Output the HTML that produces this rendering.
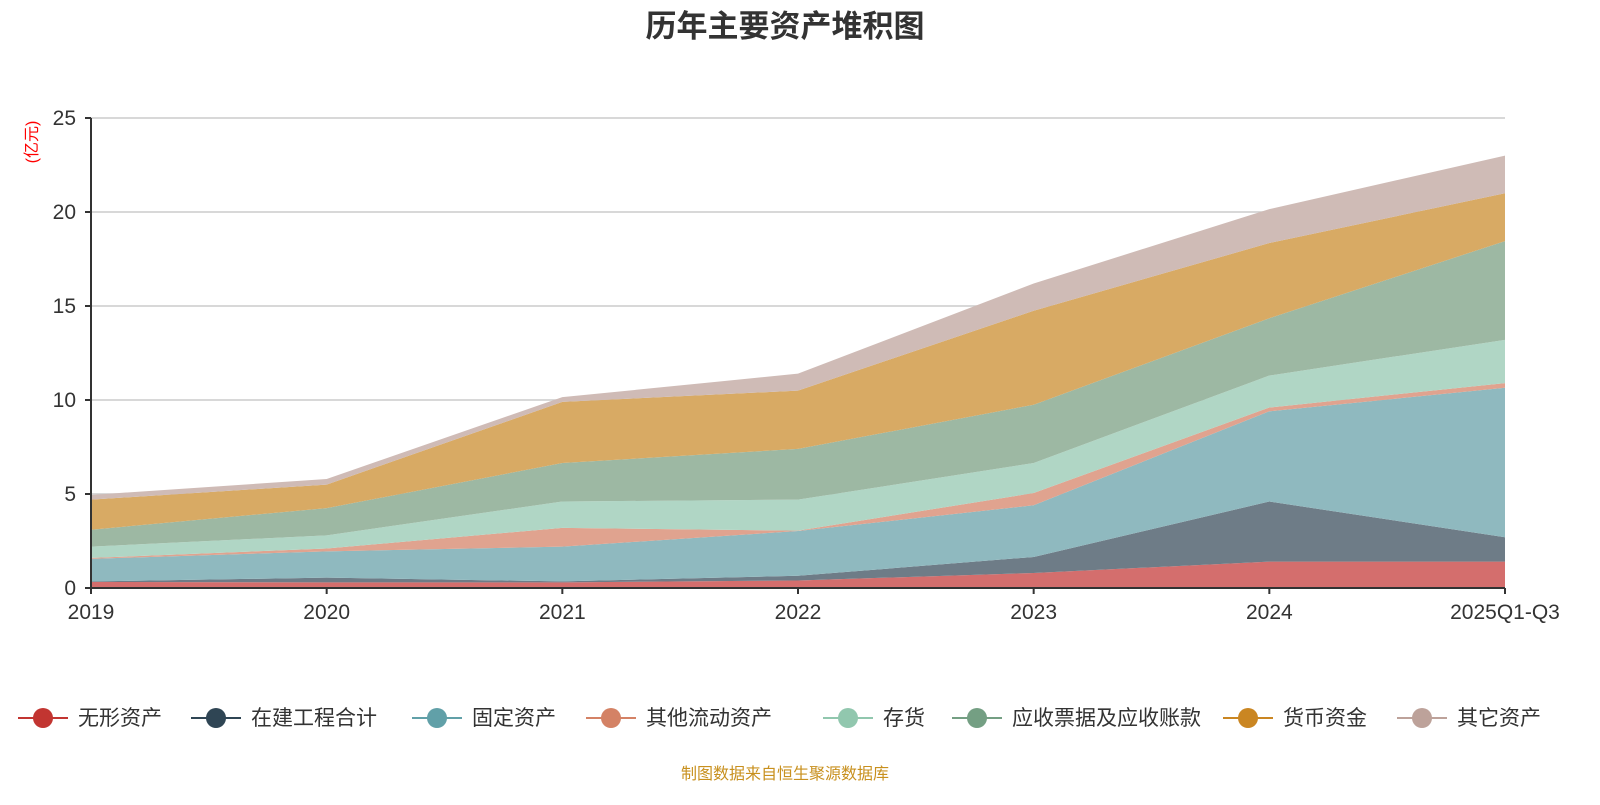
<!DOCTYPE html>
<html><head><meta charset="utf-8"><style>
body{margin:0;width:1600px;height:800px;background:#fff;overflow:hidden;font-family:"Liberation Sans","Noto Sans CJK SC",sans-serif;}
</style></head><body>
<svg id="chart" width="1600" height="800" xmlns="http://www.w3.org/2000/svg" font-family="Liberation Sans, Noto Sans CJK SC, sans-serif">
<text x="785" y="37" text-anchor="middle" font-size="31" font-weight="bold" fill="#333">历年主要资产堆积图</text>
<text transform="translate(37,142) rotate(-90)" text-anchor="middle" font-size="16" fill="#f00">(亿元)</text>
<g id="grid"></g><g id="areas"></g><g id="axes"></g><g id="legend"></g>
<text x="785" y="779" text-anchor="middle" font-size="16" fill="#c8901e">制图数据来自恒生聚源数据库</text>
</svg>
<script>
const categories=["2019","2020","2021","2022","2023","2024","2025Q1-Q3"];
const seriesNames=["无形资产","在建工程合计","固定资产","其他流动资产","存货","应收票据及应收账款","货币资金","其它资产"];
const s0=[0.32,0.3,0.3,0.4,0.8,1.4,1.4];
const s1=[0.03,0.25,0.05,0.25,0.85,3.2,1.3];
const s2=[1.2,1.4,1.85,2.38,2.75,4.8,7.95];
const s3=[0.05,0.15,1.0,0.02,0.65,0.2,0.25];
const s4=[0.6,0.7,1.4,1.65,1.6,1.7,2.3];
const s5=[0.9,1.45,2.05,2.7,3.1,3.05,5.25];
const s6=[1.6,1.25,3.25,3.1,5.0,4.0,2.55];
const s7=[0.25,0.3,0.25,0.9,1.45,1.8,2.0];
const yTicks=[0,5,10,15,20,25];
const series=[s0,s1,s2,s3,s4,s5,s6,s7];
const fills=["#d46e6d","#6e7c87","#8fb9bf","#e0a38f","#b0d6c5","#9db8a3","#d8aa64","#cfbbb6"];
const marks=["#c23531","#2f4554","#61a0a8","#d48265","#91c7ae","#749f83","#ca8622","#bda29a"];
const NS="http://www.w3.org/2000/svg";
const X0=91,X1=1505,Y0=588,Y1=118,YMAX=25;
const xs=i=>X0+(X1-X0)*i/(categories.length-1);
const ys=v=>Y0-(Y0-Y1)*v/YMAX;
function mk(t,a,p){const e=document.createElementNS(NS,t);for(const k in a)e.setAttribute(k,a[k]);p.appendChild(e);return e;}
const grid=document.getElementById('grid'),axes=document.getElementById('axes'),areas=document.getElementById('areas'),leg=document.getElementById('legend');
yTicks.forEach(v=>{
 if(v>0){const l=mk('line',{x1:X0,x2:X1,y1:ys(v),y2:ys(v),stroke:'#ccc','stroke-width':1.5},grid);
 
 }
 const t=mk('text',{x:76,y:ys(v)+7,'text-anchor':'end','font-size':21,fill:'#333'},axes);t.textContent=v;
 
 
 mk('line',{x1:X0-6,x2:X0,y1:ys(v),y2:ys(v),stroke:'#333','stroke-width':2},axes);
});
let base=categories.map(()=>0);
series.forEach((s,k)=>{
 const top=s.map((v,i)=>base[i]+v);
 let d='M'+categories.map((c,i)=>xs(i)+','+ys(top[i])).join(' L');
 for(let i=categories.length-1;i>=0;i--)d+=' L'+xs(i)+','+ys(base[i]);
 const p=mk('path',{d:d+'Z',fill:fills[k]},areas);
 
 
 base=top;
});
mk('line',{x1:X0,x2:X0,y1:Y1,y2:Y0,stroke:'#333','stroke-width':2},axes);
mk('line',{x1:X0,x2:X1,y1:Y0,y2:Y0,stroke:'#333','stroke-width':2},axes);
categories.forEach((c,i)=>{
 mk('line',{x1:xs(i),x2:xs(i),y1:Y0,y2:Y0+6,stroke:'#333','stroke-width':2},axes);
 const t=mk('text',{x:xs(i),y:619,'text-anchor':'middle','font-size':21,fill:'#333'},axes);t.textContent=c;
 
 
});
const lx=[43,216,437,611,848,977,1248,1422];
seriesNames.forEach((n,k)=>{
 const g=mk('g',{},leg);
 
 
 mk('line',{x1:lx[k]-25,x2:lx[k]+25,y1:718,y2:718,stroke:marks[k],'stroke-width':2},g);
 mk('circle',{cx:lx[k],cy:718,r:10,fill:marks[k]},g);
 const t=mk('text',{x:lx[k]+35,y:725,'font-size':21,fill:'#333'},g);t.textContent=n;
});
</script>
</body></html>
